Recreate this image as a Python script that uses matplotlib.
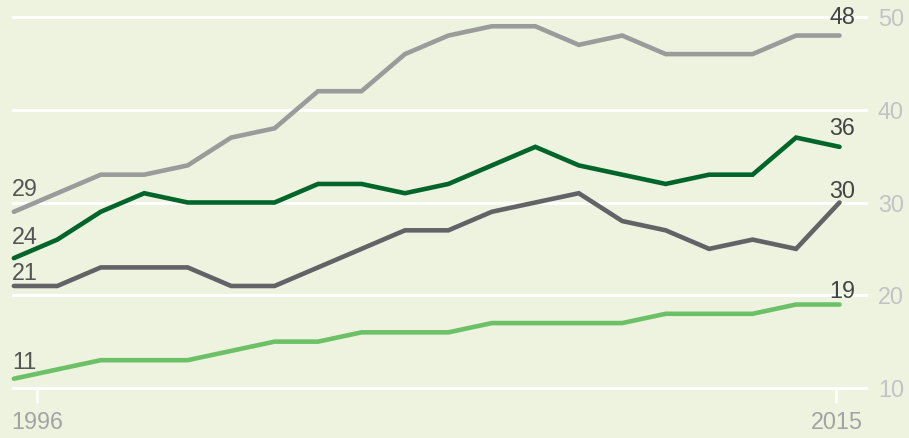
import matplotlib.pyplot as plt

# 資料 (1996-2015)
years = list(range(1996, 2016))
gray_light = [29, 31, 33, 33, 34, 37, 38, 42, 42, 46, 48, 49, 49, 47, 48, 46, 46, 46, 48, 48]
green_dark = [24, 26, 29, 31, 30, 30, 30, 32, 32, 31, 32, 34, 36, 34, 33, 32, 33, 33, 37, 36]
gray_dark = [21, 21, 23, 23, 23, 21, 21, 23, 25, 27, 27, 29, 30, 31, 28, 27, 25, 26, 25, 30]
green_light = [11, 12, 13, 13, 13, 14, 15, 15, 16, 16, 16, 17, 17, 17, 17, 18, 18, 18, 19, 19]

y_ticks = [10, 20, 30, 40, 50]
x_tick_labels = ["1996", "2015"]

bg = '#edf3df'
# (資料, 顏色, 左標籤偏移, 右標籤偏移)
series = [
    (gray_light, '#9b9b9b', 11.5, 8),
    (green_dark, '#00652a', 10, 8.5),
    (gray_dark, '#636266', 4.3, 3),
    (green_light, '#6cc167', 7.2, 5),
]

plt.rcParams['font.family'] = ['Liberation Sans', 'DejaVu Sans']
fs = 16.8

fig = plt.figure(figsize=(9.09, 4.38), dpi=100)
fig.patch.set_facecolor(bg)
ax = fig.add_axes([13 / 909, 50 / 438, 853 / 909, 371 / 438])
ax.set_facecolor(bg)

ax.set_xlim(1995.98, 2015.61)
ax.set_ylim(10, 50)

# 白色格線
for yv in y_ticks:
    ax.axhline(yv, color='white', lw=2.2, zorder=1, clip_on=False)

for vals, col, off_l, off_r in series:
    ax.plot(years, vals, color=col, lw=3.3, solid_joinstyle='miter', solid_capstyle='round',
            zorder=3, clip_on=False)
    # 左邊起始值
    ax.annotate(str(vals[0]), (years[0], vals[0]), xytext=(-1.5, off_l), textcoords='offset points',
                ha='left', va='baseline', fontsize=fs, color='#555555', zorder=4)
    # 右邊結束值
    ax.annotate(str(vals[-1]), (years[-1], vals[-1]), xytext=(2, off_r), textcoords='offset points',
                ha='center', va='baseline', fontsize=fs, color='#444444', zorder=4)

for s in ax.spines.values():
    s.set_visible(False)

ax.yaxis.tick_right()
ax.set_yticks(y_ticks)
ax.set_yticklabels([str(v) for v in y_ticks])
ax.tick_params(axis='y', length=0, pad=8.5, labelsize=fs, labelcolor='#c3c3c6')

ax.set_xticks([1996.53, 2014.93])
ax.set_xticklabels(x_tick_labels)
ax.tick_params(axis='x', direction='out', length=11, width=1.8, color='white',
               pad=5.5, labelsize=fs, labelcolor='#a3a3a3')

fig.savefig('out.png', dpi=100, facecolor=bg)
